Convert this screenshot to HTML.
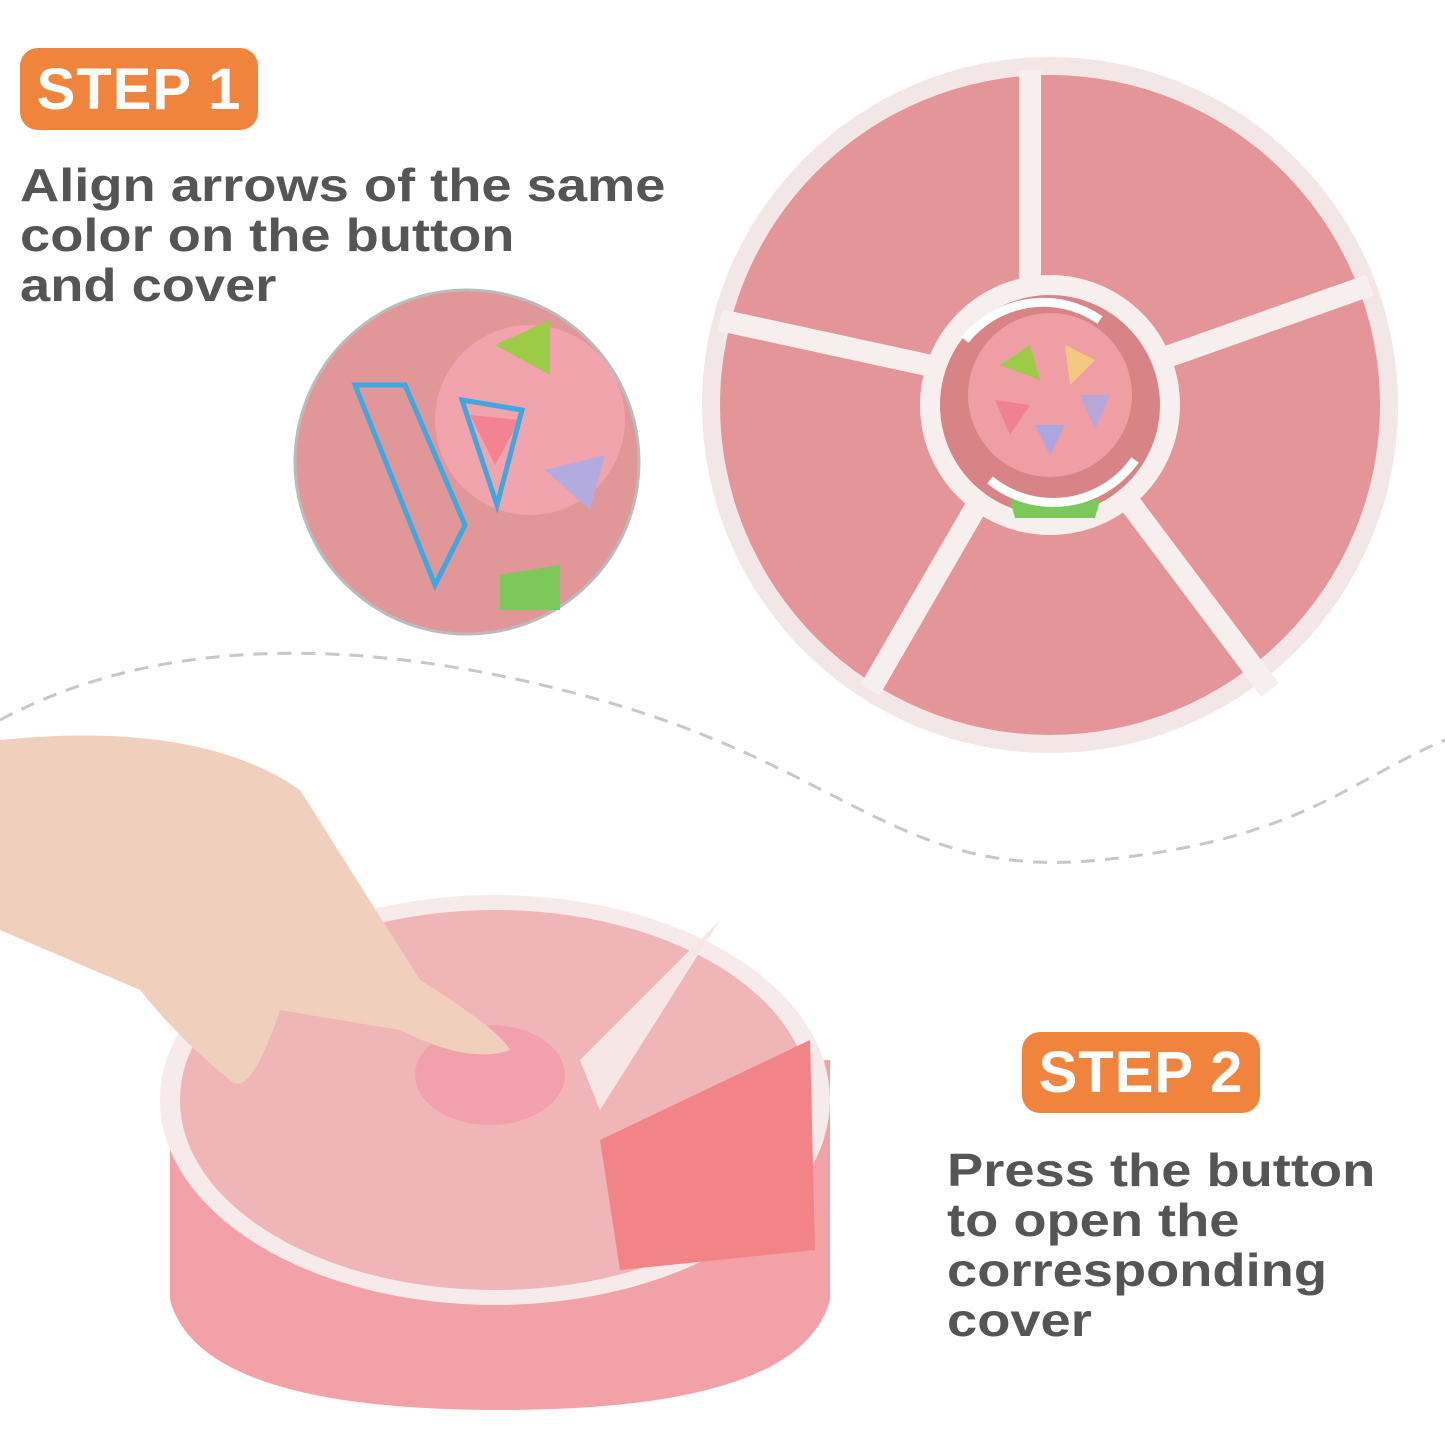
<!DOCTYPE html>
<html><head><meta charset="utf-8"><style>
html,body{margin:0;padding:0;background:#fff}
body{width:1445px;height:1445px;position:relative;overflow:hidden;font-family:"Liberation Sans",sans-serif}
.badge{position:absolute;background:#f0843c;border-radius:18px;color:#fff;font-weight:bold;font-size:58px;display:flex;align-items:center;justify-content:center;letter-spacing:1px}
.txt{position:absolute;color:#555;font-weight:bold;font-size:46px;line-height:50px;transform:scaleX(1.18);transform-origin:left top;white-space:nowrap}
svg{position:absolute;left:0;top:0}
</style></head><body>
<svg width="1445" height="1445" viewBox="0 0 1445 1445">
<path d="M0,720 C150,640 350,630 600,700 S900,880 1100,860 S1350,780 1445,740" fill="none" stroke="#c8c8c8" stroke-width="3" stroke-dasharray="14 10"/>
<circle cx="1050" cy="405" r="348" fill="#f3e6e6"/>
<circle cx="1050" cy="405" r="330" fill="#e49597"/>
<g stroke="#f7eeee" stroke-width="22">
<line x1="1030" y1="330" x2="1030" y2="70"/>
<line x1="1130" y1="370" x2="1370" y2="285"/>
<line x1="1120" y1="490" x2="1270" y2="690"/>
<line x1="980" y1="500" x2="870" y2="690"/>
<line x1="950" y1="370" x2="720" y2="320"/>
</g>
<circle cx="1050" cy="405" r="130" fill="#f7eeee"/>
<circle cx="1050" cy="405" r="110" fill="#d88486"/>
<path d="M1015,518 L1095,518 L1100,500 L1010,500Z" fill="#7cc85a"/>
<circle cx="1050" cy="395" r="82" fill="#ef9ea4"/>
<path d="M1000,365 l30,-20 l10,35z" fill="#9ccb48"/>
<path d="M1065,345 l30,15 l-25,25z" fill="#f3c880"/>
<path d="M1080,395 l30,0 l-15,35z" fill="#b7a6d8"/>
<path d="M1035,425 l30,0 l-15,30z" fill="#aaa6e0"/>
<path d="M995,400 l35,5 l-20,30z" fill="#f08290"/>
<path d="M965,340 A100,100 0 0,1 1100,320" fill="none" stroke="#fff" stroke-width="9"/>
<path d="M1135,460 A100,100 0 0,1 990,480" fill="none" stroke="#fff" stroke-width="9"/>
<circle cx="467" cy="462" r="172" fill="#e19698" stroke="#bbb" stroke-width="3"/>
<circle cx="530" cy="420" r="95" fill="#f2a4ad"/>
<path d="M495,345 l55,-25 l0,55z" fill="#9ccb48"/>
<path d="M545,470 l60,-15 l-15,55z" fill="#b3aae0"/>
<path d="M470,415 l50,5 l-25,45z" fill="#f28492"/>
<path d="M355,385 l50,0 l60,140 l-30,60z" fill="none" stroke="#3ea8e0" stroke-width="5"/>
<path d="M462,400 l60,10 l-25,95z" fill="none" stroke="#3ea8e0" stroke-width="5"/>
<path d="M500,575 l60,-10 l0,45 l-60,0z" fill="#7cc85a"/>
<path d="M170,1090 L170,1300 Q200,1410 500,1410 Q800,1410 830,1300 L830,1060 Z" fill="#f2a2a6"/>
<ellipse cx="495" cy="1100" rx="335" ry="205" fill="#f6eaea"/>
<ellipse cx="495" cy="1100" rx="315" ry="190" fill="#f0b5b6"/>
<path d="M600,1140 L810,1040 L815,1250 L620,1270Z" fill="#f28488"/>
<path d="M580,1060 L740,900 L720,920 L600,1110Z" fill="#f6e6e6"/>
<ellipse cx="490" cy="1075" rx="75" ry="50" fill="#f2a0ac"/>
<path d="M0,740 Q200,720 300,790 L420,980 Q500,1030 510,1050 Q470,1065 400,1030 L280,1010 Q250,1100 230,1080 Q180,1040 140,990 L0,930Z" fill="#f0d0bd"/>
</svg>
<div class="badge" style="left:20px;top:48px;width:238px;height:82px">STEP 1</div>
<div class="txt" style="left:20px;top:160px">Align arrows of the same<br>color on the button<br>and cover</div>
<div class="badge" style="left:1022px;top:1032px;width:238px;height:81px">STEP 2</div>
<div class="txt" style="left:947px;top:1145px">Press the button<br>to open the<br>corresponding<br>cover</div>
</body></html>
